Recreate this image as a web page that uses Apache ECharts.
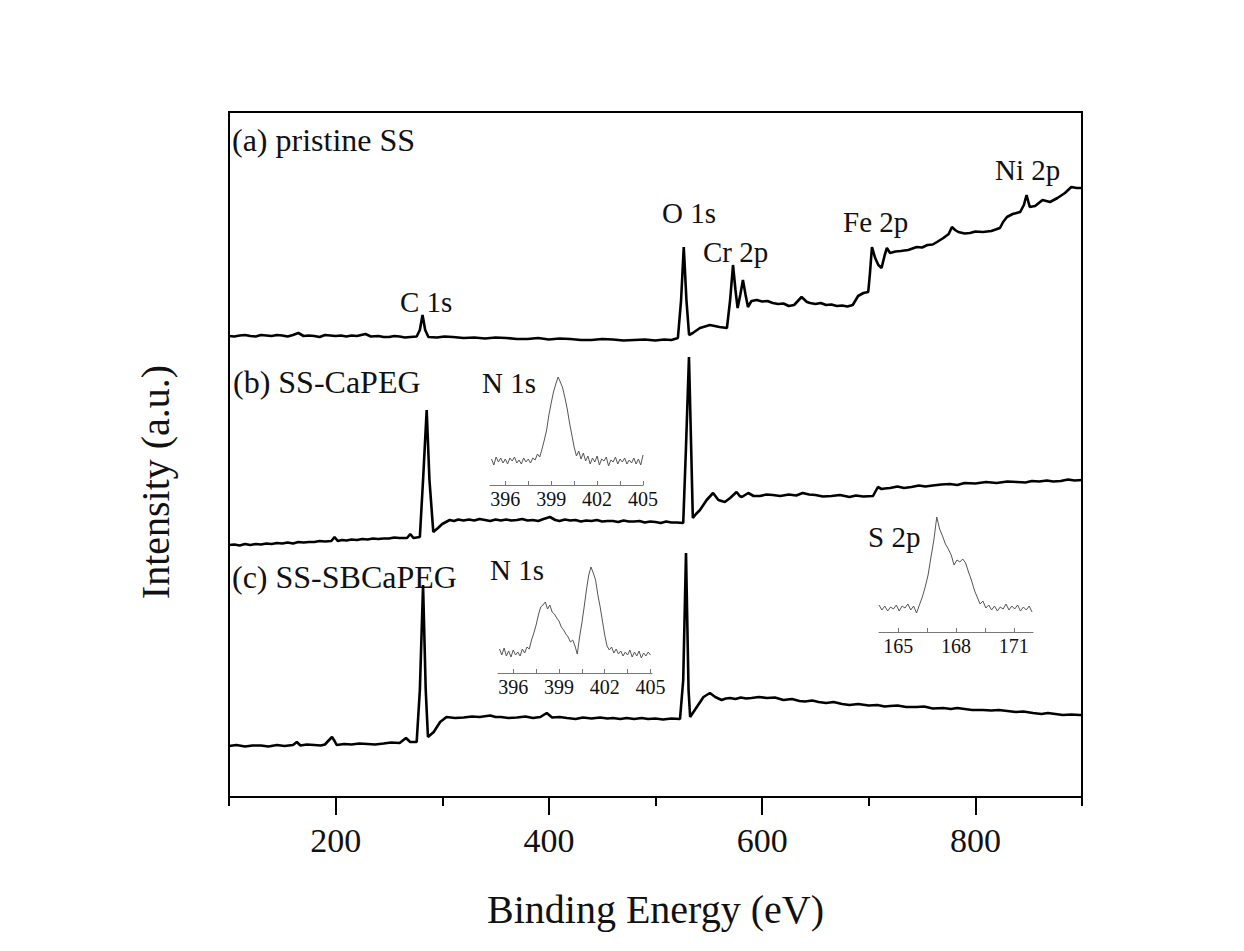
<!DOCTYPE html>
<html>
<head>
<meta charset="utf-8">
<title>XPS survey spectra</title>
<script src="https://cdn.jsdelivr.net/npm/echarts@6/dist/echarts.min.js"></script>
<style>
  html, body { margin: 0; padding: 0; background: #fff; }
  #chart { width: 1244px; height: 951px; }
</style>
</head>
<body>
<div id="chart"></div>
<script>
// survey spectra, binding energy (eV) vs intensity (a.u.)
var energyA = [100,105,110,115,120,125,130,135,140,145,150,155,160,165,170,175,180,185,190,195,200,205,210,215,220,228,233,240,245,250,255,260,265,270,276,279,281.5,284,287,295,302,310,320,330,340,350,360,370,380,390,400,410,420,430,440,450,460,470,480,490,500,508,515,521,524,526.5,529,531.5,535,541.7,551,560,567,570,572.7,575,577,579.5,582,584.5,586.7,590,595,600,605,610,615,620,625,630,637,642,645,650,655,660,665,670,675,680,685,690,695,699.5,701,703,706,709,712,715,717,720,725,730,737,745,750,755,760,764,770,775,778,781,784,790,795,800,807,815,823,826,829.6,835,842,845.5,848,851,856,863,870,877,884,890,895,900];
var intensA = [461,460.5,461.5,462,461,460.5,462,461.5,461,462,461.5,460.5,462,464,461,461.5,461,460,462,461.5,461,461.5,460.5,461.5,461,463,460.5,461,460,460,461,460.5,459.5,460,460.5,467,482,467,460,459.5,460.5,460,459,459.5,458.5,459.5,459,458,458,459,457.5,458.5,458,457,457,458,457.5,456.5,457,457.5,456.5,457.5,457,459,497,550,497,462,464,469,472,470,469,497,532,507,489,502,517,502,490,496,497,495.5,496,494,493,493.5,491,492,500,495,494,493,494,492,492.5,491,491.5,490.5,492,501,504,505,522,550,539,532,529,542,549,544,545.5,546,547,550,549.5,552,552.5,555,559,563,570,567,565,563.5,564,565.5,565,566,569,575,580,583,585,592,602,590,591,597,595,599,604,610,609,609];

var energyB = [100,105,110,115,120,125,130,135,140,145,150,155,160,165,170,175,180,185,190,196,199,202,206,210,215,220,225,230,235,240,245,250,255,260,267,270,273,279,282,285.4,288,291.6,296,300,307,311,315,320,325,330,335,340,345,350,355,360,365,370,375,380,385,390,395,401,406,410,415,420,425,430,435,440,445,450,455,460,465,470,475,480,485,490,495,500,505,510,515,520,526,528.5,531.4,533.5,535,538,541.7,548,554,559,565,570,576,579,581,587,592,598,604,610,617,625,632,638,644,650,657,665,673,682,688,695,704,708.6,712,715,720,727,733,740,747,753,760,768,776,783,790,800,810,820,830,839,847,853,860,867,873,880,887,893,900];
var intensB = [252,252.5,251.5,253,252,253,252.5,253.5,253,254,253.5,254.5,253.5,255,254.5,255,255,256,255.5,256,260,256,257,256.5,257.5,257,258,257.5,258.5,258,258.5,258.5,259.5,259,259,263,259,260,317,387,317,265,269,273,277,276,277.5,276.5,277.5,276.5,278,277,276,277.5,276.5,277.5,276.5,277,278,276.5,277,276,278,280,277,276,277.5,276.5,277,275.5,276.5,276,277,275.5,276,276,275,276.5,275.5,275.5,276,274.5,275.5,275,274,275.5,274.5,274.5,274,347,440,347,279,283,287,297,304,297,295,299,305,301,300,304,301,301,302.5,302,301,302.5,301.5,304,302.5,302,300.5,301,302,300,301.5,300.5,301,310,308,308.5,309,310.5,309,310,311.5,310.5,311.5,312.5,313,312,314,313.5,315,314,315.5,315,314.5,316,315.5,316.5,315.5,316,317.5,316.5,317];

var energyC = [100,107,115,122,130,137,145,152,160,163.6,167,173,180,186,190,193,196.6,199,201,208,215,222,230,237,245,252,260,266,270,276,279,282,284.5,286.6,292,298,304,312,320,328,335,345,350,355,362,370,378,385,392,398,403,410,417,425,432,440,448,455,460,467,473,480,487,493,500,507,515,523,526,528.6,531,532.5,540,545,551,556,562,566,570,575,580,585,590,597,604.5,612,620,628,635,640,647,653,660,667,675,682,690,700,708,715,720,727,735,745,752,760,770,777,783,790,797,807,815,822,830,838,845,854,862,868,875,882,890,898,900];
var intensC = [51,52,50.5,51.5,51.5,50.5,52,51,52,55,51.5,52.5,52,51.5,52.5,56,60,56,52,53,52.5,53.5,53,52.5,53.5,54.5,54,59,55,55,107,212,107,60,65,75,80,79,79.5,80.5,80,81.5,80,80,79,79.5,80.5,79,80,84,79.5,80,79,78,79.5,78.5,79.5,78.5,79,78,79,78,79,78,78.5,77.5,78.5,78,117,244,107,80,92,100,104,100,97,98.5,99,98,99.5,98.5,99,100,99,99.5,97,98,96,95.5,96.5,95,94,95,93,92,93,91.5,92,90.5,91,91.5,90,90,90.5,88.5,89,88,89,88,87,87,86.5,87,86,85,85.5,84,83,84,83,82,82.5,82,82];

// N 1s inset of SS-CaPEG
var n1sEnergyB = [395.10,395.25,395.40,395.55,395.70,395.85,396.00,396.15,396.30,396.45,396.60,396.75,396.90,397.05,397.20,397.35,397.50,397.65,397.80,397.95,398.10,398.25,398.40,398.55,398.70,398.85,399.00,399.15,399.30,399.45,399.60,399.75,399.90,400.05,400.20,400.35,400.50,400.65,400.80,400.95,401.10,401.25,401.40,401.55,401.70,401.85,402.00,402.15,402.30,402.45,402.60,402.75,402.90,403.05,403.20,403.35,403.50,403.65,403.80,403.95,404.10,404.25,404.40,404.55,404.70,404.85,405.00];
var n1sIntensB = [26,20,28,23,27,22,26,21,27,24,28,22,25,21,27,23,26,22,27,25,31,28,36,45,55,70,82,93,101,108,103,97,87,76,62,50,38,29,34,26,32,24,29,21,27,23,29,20,26,24,28,19,25,23,28,21,26,23,27,21,25,22,27,21,26,20,30];

// N 1s inset of SS-SBCaPEG
var n1sEnergyC = [395.10,395.25,395.40,395.55,395.70,395.85,396.00,396.15,396.30,396.45,396.60,396.75,396.90,397.05,397.20,397.35,397.50,397.65,397.80,397.95,398.10,398.25,398.40,398.55,398.70,398.85,399.00,399.15,399.30,399.45,399.60,399.75,399.90,400.05,400.20,400.35,400.50,400.65,400.80,400.95,401.10,401.25,401.40,401.55,401.70,401.85,402.00,402.15,402.30,402.45,402.60,402.75,402.90,403.05,403.20,403.35,403.50,403.65,403.80,403.95,404.10,404.25,404.40,404.55,404.70,404.85,405.00];
var n1sIntensC = [24,18,25,17,22,16,23,18,21,17,24,20,26,24,33,40,48,58,66,68,71,64,68,61,59,55,52,46,43,39,36,31,33,27,19,36,50,66,83,98,106,100,93,78,66,52,38,27,23,26,20,24,19,22,17,21,18,23,16,21,17,22,15,20,17,21,18];

// S 2p inset of SS-SBCaPEG
var s2pEnergy = [164.00,164.15,164.30,164.45,164.60,164.75,164.90,165.05,165.20,165.35,165.50,165.65,165.80,165.95,166.10,166.25,166.40,166.55,166.70,166.85,167.00,167.15,167.30,167.45,167.60,167.75,167.90,168.05,168.20,168.35,168.50,168.65,168.80,168.95,169.10,169.25,169.40,169.55,169.70,169.85,170.00,170.15,170.30,170.45,170.60,170.75,170.90,171.05,171.20,171.35,171.50,171.65,171.80,171.95];
var s2pIntens = [27,22,26,21,25,23,27,21,26,24,28,22,26,19,27,35,45,57,75,92,115,103,96,88,83,77,67,72,70,73,69,60,52,42,35,28,31,24,27,22,26,21,25,23,28,22,26,23,27,21,25,22,26,20];

var majorTicks = [200, 400, 600, 800];
var minorTicks = [100, 300, 500, 700, 900];
var n1sTicks = [396, 397.5, 399, 400.5, 402, 403.5, 405];
var n1sLabels = [396, 399, 402, 405];
var s2pTicks = [165, 166.5, 168, 169.5, 171];
var s2pLabels = [165, 168, 171];

function pairs(xs, ys) {
  var out = [];
  for (var i = 0; i < xs.length; i++) {
    out.push([xs[i], ys[i]]);
  }
  return out;
}

var serif = "'Liberation Serif', 'Times New Roman', serif";

function insetX(gridIndex, min, max, ticks, labels) {
  return {
    type: 'value',
    gridIndex: gridIndex,
    min: min,
    max: max,
    splitLine: { show: false },
    axisLine: { lineStyle: { color: '#777', width: 1 } },
    axisTick: { customValues: ticks, inside: true, length: 4, lineStyle: { color: '#777' } },
    axisLabel: { customValues: labels, fontFamily: serif, fontSize: 20, color: '#111', margin: 4 }
  };
}

function insetY(gridIndex, max) {
  return { type: 'value', gridIndex: gridIndex, min: 0, max: max, show: false };
}

function label(text, x, y, size) {
  return {
    type: 'text',
    x: x,
    y: y,
    style: { text: text, fontFamily: serif, fontSize: size, fill: '#111', verticalAlign: 'middle' }
  };
}

var myChart = echarts.init(document.getElementById('chart'), null, { renderer: 'svg' });

var option = {
  backgroundColor: '#fff',
  animation: false,
  grid: [
    { left: 229, right: 162, top: 112, bottom: 154, show: true, borderColor: '#000', borderWidth: 2 },
    { left: 490, top: 370, width: 153, height: 115 },
    { left: 498, top: 560, width: 154, height: 113 },
    { left: 879, top: 510, width: 154, height: 122 }
  ],
  xAxis: [
    {
      type: 'value',
      gridIndex: 0,
      min: 100,
      max: 900,
      name: 'Binding Energy (eV)',
      nameLocation: 'middle',
      nameGap: 92,
      nameTextStyle: { fontFamily: serif, fontSize: 40, color: '#111' },
      splitLine: { show: false },
      axisLine: { onZero: false, lineStyle: { color: '#000', width: 2 } },
      axisTick: { customValues: majorTicks, length: 18, lineStyle: { color: '#000', width: 2 } },
      axisLabel: { customValues: majorTicks, fontFamily: serif, fontSize: 34, color: '#111', margin: 26 }
    },
    {
      type: 'value',
      gridIndex: 0,
      position: 'bottom',
      min: 100,
      max: 900,
      splitLine: { show: false },
      axisLine: { show: false },
      axisTick: { customValues: minorTicks, length: 9, lineStyle: { color: '#000', width: 2 } },
      axisLabel: { show: false }
    },
    insetX(1, 395, 405, n1sTicks, n1sLabels),
    insetX(2, 395, 405.1, n1sTicks, n1sLabels),
    insetX(3, 164, 172, s2pTicks, s2pLabels)
  ],
  yAxis: [
    {
      type: 'value',
      gridIndex: 0,
      min: 0,
      max: 685,
      splitLine: { show: false },
      axisLine: { show: true, lineStyle: { color: '#000', width: 2 } },
      axisTick: { show: false },
      axisLabel: { show: false }
    },
    insetY(1, 115),
    insetY(2, 113),
    insetY(3, 122)
  ],
  series: [
    { name: '(a) pristine SS', type: 'line', xAxisIndex: 0, yAxisIndex: 0, showSymbol: false,
      lineStyle: { color: '#000', width: 2.6 }, data: pairs(energyA, intensA) },
    { name: '(b) SS-CaPEG', type: 'line', xAxisIndex: 0, yAxisIndex: 0, showSymbol: false,
      lineStyle: { color: '#000', width: 2.6 }, data: pairs(energyB, intensB) },
    { name: '(c) SS-SBCaPEG', type: 'line', xAxisIndex: 0, yAxisIndex: 0, showSymbol: false,
      lineStyle: { color: '#000', width: 2.6 }, data: pairs(energyC, intensC) },
    { name: 'N 1s (b)', type: 'line', xAxisIndex: 2, yAxisIndex: 1, showSymbol: false,
      lineStyle: { color: '#555', width: 1 }, data: pairs(n1sEnergyB, n1sIntensB) },
    { name: 'N 1s (c)', type: 'line', xAxisIndex: 3, yAxisIndex: 2, showSymbol: false,
      lineStyle: { color: '#555', width: 1 }, data: pairs(n1sEnergyC, n1sIntensC) },
    { name: 'S 2p', type: 'line', xAxisIndex: 4, yAxisIndex: 3, showSymbol: false,
      lineStyle: { color: '#555', width: 1 }, data: pairs(s2pEnergy, s2pIntens) }
  ],
  graphic: [
    {
      type: 'text',
      x: 155,
      y: 482,
      rotation: Math.PI / 2,
      style: { text: 'Intensity (a.u.)', fontFamily: serif, fontSize: 40, fill: '#111', align: 'center', verticalAlign: 'middle' }
    },
    label('(a) pristine SS', 232, 140, 32),
    label('C 1s', 400, 302, 29),
    label('O 1s', 662, 213, 29),
    label('Cr 2p', 703, 252, 29),
    label('Fe 2p', 843, 222, 29),
    label('Ni 2p', 995, 170, 29),
    label('(b) SS-CaPEG', 233, 382, 32),
    label('N 1s', 482, 383, 29),
    label('(c) SS-SBCaPEG', 232, 577, 32),
    label('N 1s', 490, 570, 29),
    label('S 2p', 868, 537, 29)
  ]
};

myChart.setOption(option);
</script>
</body>
</html>
